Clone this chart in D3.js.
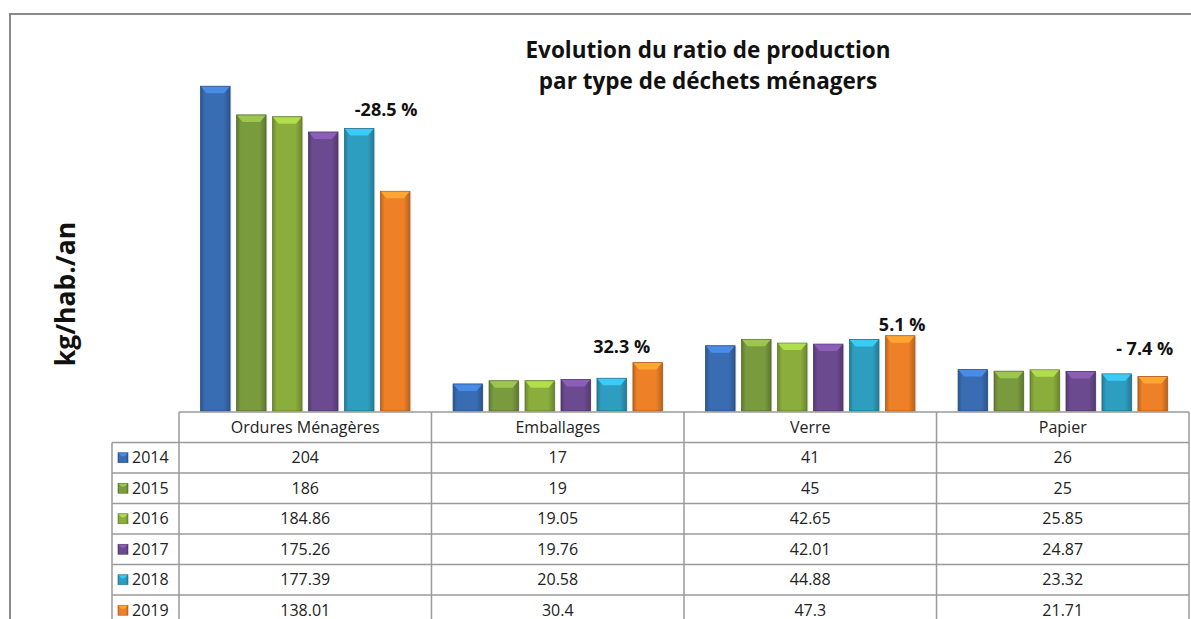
<!DOCTYPE html>
<html>
<head>
<meta charset="utf-8">
<script src="https://cdn.jsdelivr.net/npm/d3@7"></script>
<style>
  body { margin: 0; background: #fff; }
  svg { display: block; font-family: "Open Sans", sans-serif; }
</style>
</head>
<body>
<svg id="chart"></svg>
<script>
const categories = ["Ordures Ménagères", "Emballages", "Verre", "Papier"];
const years = ["2014", "2015", "2016", "2017", "2018", "2019"];

// one array per year, in category order
const v2014 = [204, 17, 41, 26];
const v2015 = [186, 19, 45, 25];
const v2016 = [184.86, 19.05, 42.65, 25.85];
const v2017 = [175.26, 19.76, 42.01, 24.87];
const v2018 = [177.39, 20.58, 44.88, 23.32];
const v2019 = [138.01, 30.4, 47.3, 21.71];
const series = [v2014, v2015, v2016, v2017, v2018, v2019];

const changeLabels = ["-28.5 %", "32.3 %", "5.1 %", "- 7.4 %"];

const colors = ["#386db4", "#7a9a3e", "#8aad3c", "#6c4a8f", "#2e9ec0", "#ee8127"];

const W = 1191, H = 619;
const plotBottom = 411;
const tableLeft = 179, tableRight = 1189, legendLeft = 112;
const rowH = 30.5;

// label nudges relative to the 2019 bar top centre
const labelNudge = [[-9, -75], [-26, -10], [2, -5], [-8, -21]];

const svg = d3.select("#chart").attr("width", W).attr("height", H);

const defs = svg.append("defs");
colors.forEach((c, i) => {
    const g = defs.append("linearGradient").attr("id", "bar" + i)
        .attr("x1", 0).attr("x2", 1).attr("y1", 0).attr("y2", 0);
    const dark = d3.color(c).darker(0.7);
    g.append("stop").attr("offset", "0%").attr("stop-color", dark);
    g.append("stop").attr("offset", "14%").attr("stop-color", c);
    g.append("stop").attr("offset", "78%").attr("stop-color", c);
    g.append("stop").attr("offset", "100%").attr("stop-color", dark);
});

// outer frame
svg.append("path")
    .attr("d", `M10,${H} L10,14 L${W},14`)
    .attr("fill", "none").attr("stroke", "#8a8a8a").attr("stroke-width", 2);

const x0 = d3.scaleBand().domain(categories).range([tableLeft, tableRight]).padding(0);
const x1 = d3.scaleBand().domain(years).range([0, x0.bandwidth()])
    .paddingInner(0.18).paddingOuter(0.6);
const y = d3.scaleLinear().domain([0, 250]).range([plotBottom, 13]);

const bars = [];
series.forEach((vals, si) => {
    vals.forEach((v, ci) => bars.push({ si, ci, v }));
});

const bw = x1.bandwidth();
const gBars = svg.append("g");
const bar = gBars.selectAll("g").data(bars).join("g")
    .attr("transform", d => `translate(${x0(categories[d.ci]) + x1(years[d.si])},${y(d.v)})`);

bar.append("rect")
    .attr("x", 1.5).attr("y", 1)
    .attr("width", bw).attr("height", d => plotBottom - y(d.v))
    .attr("fill", "#000").attr("opacity", 0.08);

bar.append("rect")
    .attr("width", bw).attr("height", d => plotBottom - y(d.v))
    .attr("fill", d => `url(#bar${d.si})`)
    .attr("stroke", d => d3.color(colors[d.si]).darker(1))
    .attr("stroke-width", 0.8);

bar.append("path")
    .attr("d", `M0.5,0.5 L${bw - 0.5},0.5 L${bw - 6},7 L6,7 Z`)
    .attr("fill", d => d3.color(colors[d.si]).brighter(0.7));

// change labels above the 2019 bars
svg.append("g").selectAll("text").data(changeLabels).join("text")
    .attr("x", (d, i) => x0(categories[i]) + x1("2019") + bw / 2 + labelNudge[i][0])
    .attr("y", (d, i) => y(v2019[i]) + labelNudge[i][1])
    .attr("text-anchor", "middle")
    .attr("font-weight", "bold").attr("font-size", 18).attr("fill", "#111")
    .text(d => d);

// title
svg.append("text")
    .attr("x", 708).attr("y", 58)
    .attr("text-anchor", "middle").attr("font-weight", "bold").attr("font-size", 22.5).attr("fill", "#111")
    .selectAll("tspan").data(["Evolution du ratio de production", "par type de déchets ménagers"]).join("tspan")
    .attr("x", 708).attr("dy", (d, i) => i ? 31 : 0).text(d => d);

// y label
svg.append("text")
    .attr("transform", "translate(75,294) rotate(-90)")
    .attr("text-anchor", "middle").attr("font-weight", "bold").attr("font-size", 26.5).attr("fill", "#111")
    .text("kg/hab./an");

// data table
const lineColor = "#9a9a9a";
const table = svg.append("g").attr("stroke", lineColor).attr("stroke-width", 1.5).attr("fill", "none");
const headTop = plotBottom + 1;
const rowTop = i => headTop + rowH * (i + 1);

table.append("line").attr("x1", tableLeft).attr("x2", tableRight).attr("y1", headTop).attr("y2", headTop);
years.forEach((yr, i) => {
    table.append("line").attr("x1", legendLeft).attr("x2", tableRight)
        .attr("y1", rowTop(i)).attr("y2", rowTop(i));
});
table.append("line").attr("x1", legendLeft).attr("x2", legendLeft).attr("y1", rowTop(0)).attr("y2", H);
categories.forEach(c => {
    table.append("line").attr("x1", x0(c)).attr("x2", x0(c)).attr("y1", headTop).attr("y2", H);
});
table.append("line").attr("x1", tableRight).attr("x2", tableRight).attr("y1", headTop).attr("y2", H);

const txt = svg.append("g").attr("font-size", 16).attr("fill", "#222");
txt.selectAll("text.head").data(categories).join("text").attr("class", "head")
    .attr("x", d => x0(d) + x0.bandwidth() / 2).attr("y", headTop + rowH / 2)
    .attr("dy", "0.35em").attr("text-anchor", "middle").text(d => d);

years.forEach((yr, si) => {
    const cy = rowTop(si) + rowH / 2;
    txt.append("text").attr("x", 132).attr("y", cy).attr("dy", "0.35em").text(yr);
    txt.selectAll(null).data(series[si]).join("text")
        .attr("x", (d, ci) => x0(categories[ci]) + x0.bandwidth() / 2)
        .attr("y", cy).attr("dy", "0.35em").attr("text-anchor", "middle")
        .text(d => d);
    const key = svg.append("g").attr("transform", `translate(118,${cy - 5})`);
    key.append("rect").attr("width", 10).attr("height", 10)
        .attr("fill", `url(#bar${si})`).attr("stroke", d3.color(colors[si]).darker(0.9)).attr("stroke-width", 0.6);
    key.append("path").attr("d", "M0.5,0.5 L9.5,0.5 L6.5,3.5 L3.5,3.5 Z")
        .attr("fill", d3.color(colors[si]).brighter(0.7));
});
</script>
</body>
</html>
